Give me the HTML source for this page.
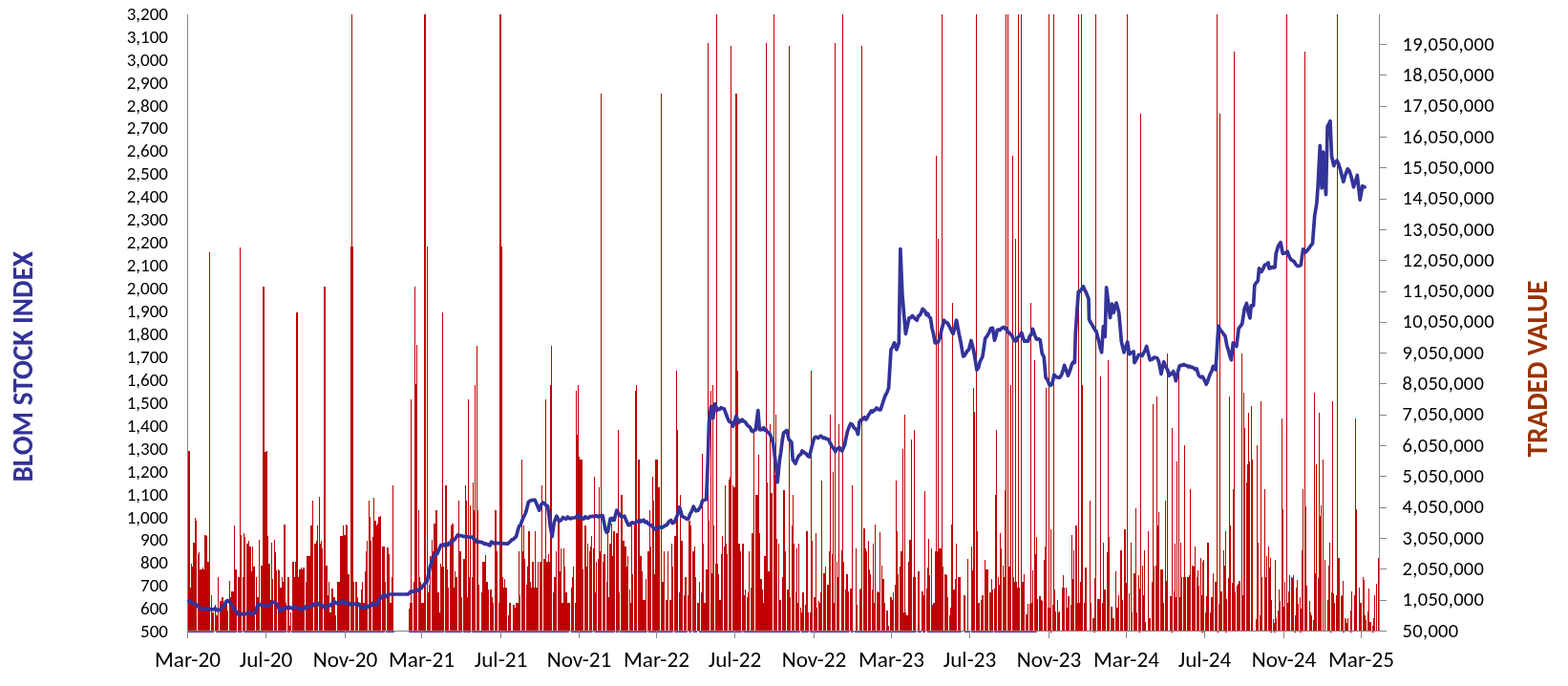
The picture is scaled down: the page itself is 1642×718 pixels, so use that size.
<!DOCTYPE html><html><head><meta charset="utf-8"><style>
html,body{margin:0;padding:0;background:#fff;}svg{display:block;}
text{font-family:Carlito,"Liberation Sans",sans-serif;}
.l{font-size:19px;fill:#000;}.r{font-size:20.5px;letter-spacing:0.3px;fill:#000;}.b{font-size:23.2px;fill:#000;}
.t{font-size:29.3px;font-weight:bold;}
</style></head><body>
<svg width="1642" height="718" viewBox="0 0 1642 718">
<rect width="1642" height="718" fill="#fff"/>
<path fill="#C00000" shape-rendering="crispEdges" d="M197 471.9h1V660.5h-1zM198 471.9h1V660.5h-1zM199 614.5h1V660.5h-1zM200 590.4h1V660.5h-1zM201 593.1h1V660.5h-1zM202 567.6h1V660.5h-1zM203 567.6h1V660.5h-1zM204 542.2h1V660.5h-1zM205 544.9h1V660.5h-1zM207 579.7h1V660.5h-1zM208 578.3h1V660.5h-1zM209 595.7h1V660.5h-1zM210 595.7h1V660.5h-1zM211 595.7h1V660.5h-1zM212 594.4h1V660.5h-1zM213 595.7h1V660.5h-1zM214 559.6h1V660.5h-1zM215 559.6h1V660.5h-1zM216 561.0h1V660.5h-1zM217 587.7h1V660.5h-1zM218 587.7h1V660.5h-1zM219 263.6h1V660.5h-1zM221 622.5h1V660.5h-1zM222 641.2h1V660.5h-1zM223 641.2h1V660.5h-1zM225 633.2h1V660.5h-1zM226 643.9h1V660.5h-1zM227 643.9h1V660.5h-1zM228 603.8h1V660.5h-1zM230 629.2h1V660.5h-1zM231 629.2h1V660.5h-1zM232 625.2h1V660.5h-1zM233 625.2h1V660.5h-1zM234 630.5h1V660.5h-1zM235 630.5h1V660.5h-1zM236 633.2h1V660.5h-1zM237 630.5h1V660.5h-1zM238 638.5h1V660.5h-1zM240 607.8h1V660.5h-1zM241 625.2h1V660.5h-1zM242 618.5h1V660.5h-1zM243 618.5h1V660.5h-1zM244 618.5h1V660.5h-1zM245 550.3h1V660.5h-1zM246 595.7h1V660.5h-1zM247 595.7h1V660.5h-1zM249 603.8h1V660.5h-1zM250 603.8h1V660.5h-1zM251 259.0h1V660.5h-1zM252 559.6h1V660.5h-1zM254 603.8h1V660.5h-1zM255 558.3h1V660.5h-1zM256 562.3h1V660.5h-1zM258 569.0h1V660.5h-1zM259 569.0h1V660.5h-1zM260 566.3h1V660.5h-1zM261 571.7h1V660.5h-1zM262 571.7h1V660.5h-1zM263 598.4h1V660.5h-1zM264 571.7h1V660.5h-1zM265 593.1h1V660.5h-1zM266 593.1h1V660.5h-1zM268 603.8h1V660.5h-1zM269 625.2h1V660.5h-1zM270 625.2h1V660.5h-1zM271 565.0h1V660.5h-1zM273 591.7h1V660.5h-1zM274 591.7h1V660.5h-1zM275 300.0h1V660.5h-1zM276 300.0h1V660.5h-1zM277 472.7h1V660.5h-1zM278 472.7h1V660.5h-1zM279 471.9h1V660.5h-1zM280 561.0h1V660.5h-1zM281 590.4h1V660.5h-1zM282 590.4h1V660.5h-1zM283 627.8h1V660.5h-1zM284 567.6h1V660.5h-1zM285 606.4h1V660.5h-1zM287 565.0h1V660.5h-1zM288 578.3h1V660.5h-1zM289 597.1h1V660.5h-1zM291 595.7h1V660.5h-1zM292 597.1h1V660.5h-1zM293 614.5h1V660.5h-1zM294 614.5h1V660.5h-1zM295 603.8h1V660.5h-1zM296 609.1h1V660.5h-1zM297 548.9h1V660.5h-1zM298 548.9h1V660.5h-1zM299 630.5h1V660.5h-1zM301 603.8h1V660.5h-1zM302 603.8h1V660.5h-1zM303 654.6h1V660.5h-1zM304 641.2h1V660.5h-1zM306 587.7h1V660.5h-1zM307 587.7h1V660.5h-1zM308 603.8h1V660.5h-1zM309 587.7h1V660.5h-1zM310 327.1h1V660.5h-1zM311 327.1h1V660.5h-1zM312 603.8h1V660.5h-1zM313 595.7h1V660.5h-1zM314 595.7h1V660.5h-1zM315 594.4h1V660.5h-1zM316 595.7h1V660.5h-1zM317 594.4h1V660.5h-1zM318 594.4h1V660.5h-1zM320 609.1h1V660.5h-1zM321 582.4h1V660.5h-1zM322 582.4h1V660.5h-1zM323 582.4h1V660.5h-1zM324 582.4h1V660.5h-1zM325 550.3h1V660.5h-1zM326 550.3h1V660.5h-1zM327 523.5h1V660.5h-1zM329 569.0h1V660.5h-1zM330 569.0h1V660.5h-1zM331 566.3h1V660.5h-1zM332 550.3h1V660.5h-1zM334 519.5h1V660.5h-1zM335 569.0h1V660.5h-1zM336 566.3h1V660.5h-1zM337 574.3h1V660.5h-1zM339 300.0h1V660.5h-1zM340 300.0h1V660.5h-1zM341 591.7h1V660.5h-1zM342 591.7h1V660.5h-1zM343 622.5h1V660.5h-1zM344 609.1h1V660.5h-1zM345 641.2h1V660.5h-1zM346 641.2h1V660.5h-1zM347 615.8h1V660.5h-1zM348 615.8h1V660.5h-1zM349 625.2h1V660.5h-1zM350 625.2h1V660.5h-1zM351 643.9h1V660.5h-1zM353 609.1h1V660.5h-1zM354 609.1h1V660.5h-1zM355 609.1h1V660.5h-1zM356 561.0h1V660.5h-1zM357 561.0h1V660.5h-1zM358 561.0h1V660.5h-1zM359 550.3h1V660.5h-1zM360 559.6h1V660.5h-1zM361 559.6h1V660.5h-1zM362 548.9h1V660.5h-1zM363 550.3h1V660.5h-1zM364 601.1h1V660.5h-1zM365 601.1h1V660.5h-1zM367 257.8h1V660.5h-1zM368 15.0h1V660.5h-1zM369 257.8h1V660.5h-1zM370 609.1h1V660.5h-1zM372 609.1h1V660.5h-1zM373 609.1h1V660.5h-1zM374 625.2h1V660.5h-1zM376 630.5h1V660.5h-1zM377 630.5h1V660.5h-1zM378 617.1h1V660.5h-1zM379 609.1h1V660.5h-1zM380 630.5h1V660.5h-1zM381 630.5h1V660.5h-1zM382 598.4h1V660.5h-1zM383 577.0h1V660.5h-1zM384 566.3h1V660.5h-1zM386 523.5h1V660.5h-1zM387 540.9h1V660.5h-1zM388 566.3h1V660.5h-1zM390 562.3h1V660.5h-1zM391 520.8h1V660.5h-1zM392 544.9h1V660.5h-1zM393 544.9h1V660.5h-1zM394 550.3h1V660.5h-1zM395 547.6h1V660.5h-1zM396 540.9h1V660.5h-1zM397 540.9h1V660.5h-1zM398 539.6h1V660.5h-1zM400 571.7h1V660.5h-1zM401 571.7h1V660.5h-1zM402 571.7h1V660.5h-1zM403 609.1h1V660.5h-1zM405 573.0h1V660.5h-1zM406 573.0h1V660.5h-1zM407 579.7h1V660.5h-1zM408 630.5h1V660.5h-1zM409 630.5h1V660.5h-1zM410 603.8h1V660.5h-1zM411 507.5h1V660.5h-1zM428 637.2h1V660.5h-1zM429 630.5h1V660.5h-1zM430 418.2h1V660.5h-1zM431 630.5h1V660.5h-1zM433 609.1h1V660.5h-1zM434 300.0h1V660.5h-1zM435 402.0h1V660.5h-1zM436 360.7h1V660.5h-1zM438 534.2h1V660.5h-1zM439 603.8h1V660.5h-1zM440 609.1h1V660.5h-1zM441 630.5h1V660.5h-1zM442 630.5h1V660.5h-1zM443 630.5h1V660.5h-1zM444 15.0h1V660.5h-1zM445 15.0h1V660.5h-1zM447 257.8h1V660.5h-1zM448 619.8h1V660.5h-1zM449 611.8h1V660.5h-1zM450 582.4h1V660.5h-1zM452 565.0h1V660.5h-1zM453 577.0h1V660.5h-1zM454 547.6h1V660.5h-1zM455 547.6h1V660.5h-1zM456 534.2h1V660.5h-1zM457 534.2h1V660.5h-1zM458 619.8h1V660.5h-1zM459 619.8h1V660.5h-1zM460 641.2h1V660.5h-1zM461 590.4h1V660.5h-1zM462 593.1h1V660.5h-1zM463 327.1h1V660.5h-1zM464 593.1h1V660.5h-1zM466 507.5h1V660.5h-1zM467 507.5h1V660.5h-1zM468 595.7h1V660.5h-1zM469 614.5h1V660.5h-1zM471 563.6h1V660.5h-1zM472 550.3h1V660.5h-1zM473 547.6h1V660.5h-1zM474 547.6h1V660.5h-1zM475 614.5h1V660.5h-1zM476 598.4h1V660.5h-1zM477 603.8h1V660.5h-1zM478 603.8h1V660.5h-1zM480 523.5h1V660.5h-1zM481 577.0h1V660.5h-1zM482 577.0h1V660.5h-1zM483 625.2h1V660.5h-1zM485 585.0h1V660.5h-1zM486 585.0h1V660.5h-1zM487 507.5h1V660.5h-1zM488 523.5h1V660.5h-1zM489 625.2h1V660.5h-1zM490 418.3h1V660.5h-1zM491 603.8h1V660.5h-1zM492 528.9h1V660.5h-1zM494 603.8h1V660.5h-1zM495 504.8h1V660.5h-1zM496 534.2h1V660.5h-1zM497 403.0h1V660.5h-1zM499 361.5h1V660.5h-1zM500 534.2h1V660.5h-1zM501 611.8h1V660.5h-1zM504 619.8h1V660.5h-1zM505 587.7h1V660.5h-1zM506 587.7h1V660.5h-1zM507 587.7h1V660.5h-1zM508 581.0h1V660.5h-1zM509 609.1h1V660.5h-1zM510 609.1h1V660.5h-1zM511 617.1h1V660.5h-1zM513 617.1h1V660.5h-1zM514 617.1h1V660.5h-1zM515 625.2h1V660.5h-1zM516 630.5h1V660.5h-1zM518 534.2h1V660.5h-1zM519 534.2h1V660.5h-1zM520 577.0h1V660.5h-1zM522 630.5h1V660.5h-1zM523 15.0h1V660.5h-1zM524 15.0h1V660.5h-1zM525 257.8h1V660.5h-1zM526 603.8h1V660.5h-1zM527 614.5h1V660.5h-1zM528 606.4h1V660.5h-1zM529 614.5h1V660.5h-1zM530 614.5h1V660.5h-1zM532 643.9h1V660.5h-1zM533 630.5h1V660.5h-1zM534 630.5h1V660.5h-1zM537 633.2h1V660.5h-1zM538 633.2h1V660.5h-1zM539 635.9h1V660.5h-1zM540 630.5h1V660.5h-1zM541 630.5h1V660.5h-1zM542 630.5h1V660.5h-1zM543 577.0h1V660.5h-1zM544 622.5h1V660.5h-1zM546 480.7h1V660.5h-1zM547 577.0h1V660.5h-1zM548 550.3h1V660.5h-1zM549 585.0h1V660.5h-1zM551 611.8h1V660.5h-1zM552 593.1h1V660.5h-1zM553 555.6h1V660.5h-1zM554 555.6h1V660.5h-1zM555 609.1h1V660.5h-1zM556 614.5h1V660.5h-1zM557 587.7h1V660.5h-1zM558 587.7h1V660.5h-1zM559 614.5h1V660.5h-1zM560 555.6h1V660.5h-1zM561 614.5h1V660.5h-1zM562 614.5h1V660.5h-1zM563 587.7h1V660.5h-1zM565 587.7h1V660.5h-1zM566 587.7h1V660.5h-1zM567 507.5h1V660.5h-1zM569 585.0h1V660.5h-1zM570 585.0h1V660.5h-1zM571 418.3h1V660.5h-1zM572 587.7h1V660.5h-1zM573 587.7h1V660.5h-1zM574 579.7h1V660.5h-1zM575 587.7h1V660.5h-1zM576 403.0h1V660.5h-1zM577 361.5h1V660.5h-1zM579 619.8h1V660.5h-1zM580 603.8h1V660.5h-1zM581 603.8h1V660.5h-1zM582 577.0h1V660.5h-1zM584 544.9h1V660.5h-1zM585 544.9h1V660.5h-1zM586 598.4h1V660.5h-1zM587 574.3h1V660.5h-1zM588 630.5h1V660.5h-1zM589 630.5h1V660.5h-1zM590 574.3h1V660.5h-1zM591 593.1h1V660.5h-1zM592 619.8h1V660.5h-1zM593 619.8h1V660.5h-1zM594 630.5h1V660.5h-1zM595 630.5h1V660.5h-1zM596 630.5h1V660.5h-1zM598 614.5h1V660.5h-1zM599 603.8h1V660.5h-1zM600 593.1h1V660.5h-1zM602 630.5h1V660.5h-1zM603 408.8h1V660.5h-1zM604 455.0h1V660.5h-1zM605 403.0h1V660.5h-1zM606 478.0h1V660.5h-1zM607 480.7h1V660.5h-1zM608 480.7h1V660.5h-1zM609 480.7h1V660.5h-1zM610 595.7h1V660.5h-1zM612 550.3h1V660.5h-1zM613 550.3h1V660.5h-1zM614 593.1h1V660.5h-1zM615 569.0h1V660.5h-1zM617 577.0h1V660.5h-1zM618 571.7h1V660.5h-1zM619 561.0h1V660.5h-1zM621 574.3h1V660.5h-1zM622 499.4h1V660.5h-1zM623 619.8h1V660.5h-1zM624 587.7h1V660.5h-1zM626 585.0h1V660.5h-1zM627 510.1h1V660.5h-1zM628 577.0h1V660.5h-1zM629 97.9h1V660.5h-1zM631 587.7h1V660.5h-1zM632 579.7h1V660.5h-1zM633 579.7h1V660.5h-1zM635 609.1h1V660.5h-1zM636 555.6h1V660.5h-1zM637 625.2h1V660.5h-1zM638 569.0h1V660.5h-1zM639 569.0h1V660.5h-1zM640 547.6h1V660.5h-1zM641 582.4h1V660.5h-1zM642 555.6h1V660.5h-1zM643 555.6h1V660.5h-1zM645 558.3h1V660.5h-1zM646 558.3h1V660.5h-1zM647 450.0h1V660.5h-1zM648 619.8h1V660.5h-1zM650 518.2h1V660.5h-1zM651 518.2h1V660.5h-1zM652 566.3h1V660.5h-1zM653 566.3h1V660.5h-1zM654 571.7h1V660.5h-1zM655 571.7h1V660.5h-1zM656 593.1h1V660.5h-1zM657 582.4h1V660.5h-1zM659 617.1h1V660.5h-1zM660 630.5h1V660.5h-1zM661 550.3h1V660.5h-1zM662 601.1h1V660.5h-1zM664 550.3h1V660.5h-1zM665 408.8h1V660.5h-1zM666 403.0h1V660.5h-1zM668 480.7h1V660.5h-1zM669 480.7h1V660.5h-1zM670 582.4h1V660.5h-1zM671 582.4h1V660.5h-1zM672 598.4h1V660.5h-1zM673 627.8h1V660.5h-1zM674 627.8h1V660.5h-1zM675 627.8h1V660.5h-1zM676 606.4h1V660.5h-1zM678 577.0h1V660.5h-1zM679 577.0h1V660.5h-1zM680 534.2h1V660.5h-1zM681 571.7h1V660.5h-1zM683 499.4h1V660.5h-1zM684 523.5h1V660.5h-1zM685 601.1h1V660.5h-1zM686 480.7h1V660.5h-1zM687 480.7h1V660.5h-1zM688 480.7h1V660.5h-1zM689 510.1h1V660.5h-1zM690 510.1h1V660.5h-1zM692 97.9h1V660.5h-1zM693 609.1h1V660.5h-1zM694 609.1h1V660.5h-1zM695 577.0h1V660.5h-1zM697 627.8h1V660.5h-1zM698 627.8h1V660.5h-1zM699 577.0h1V660.5h-1zM701 627.8h1V660.5h-1zM702 627.8h1V660.5h-1zM703 569.0h1V660.5h-1zM704 593.1h1V660.5h-1zM706 561.0h1V660.5h-1zM707 561.0h1V660.5h-1zM708 388.1h1V660.5h-1zM709 450.0h1V660.5h-1zM711 619.8h1V660.5h-1zM712 518.2h1V660.5h-1zM713 566.3h1V660.5h-1zM714 566.3h1V660.5h-1zM716 622.5h1V660.5h-1zM717 603.8h1V660.5h-1zM718 603.8h1V660.5h-1zM720 622.5h1V660.5h-1zM721 544.9h1V660.5h-1zM722 544.9h1V660.5h-1zM723 550.3h1V660.5h-1zM725 577.0h1V660.5h-1zM726 577.0h1V660.5h-1zM727 571.7h1V660.5h-1zM728 603.8h1V660.5h-1zM730 630.5h1V660.5h-1zM731 630.5h1V660.5h-1zM732 609.1h1V660.5h-1zM734 619.8h1V660.5h-1zM735 475.4h1V660.5h-1zM736 569.0h1V660.5h-1zM737 630.5h1V660.5h-1zM738 630.5h1V660.5h-1zM739 595.7h1V660.5h-1zM740 595.7h1V660.5h-1zM741 45.2h1V660.5h-1zM742 544.9h1V660.5h-1zM744 408.8h1V660.5h-1zM745 600.0h1V660.5h-1zM746 403.0h1V660.5h-1zM747 550.3h1V660.5h-1zM749 590.4h1V660.5h-1zM750 15.0h1V660.5h-1zM751 590.4h1V660.5h-1zM752 601.1h1V660.5h-1zM753 627.8h1V660.5h-1zM754 627.8h1V660.5h-1zM755 579.7h1V660.5h-1zM756 561.0h1V660.5h-1zM758 571.7h1V660.5h-1zM759 507.5h1V660.5h-1zM760 569.0h1V660.5h-1zM761 579.7h1V660.5h-1zM763 502.1h1V660.5h-1zM764 499.4h1V660.5h-1zM765 48.2h1V660.5h-1zM767 507.5h1V660.5h-1zM768 510.1h1V660.5h-1zM769 510.1h1V660.5h-1zM770 97.9h1V660.5h-1zM771 97.9h1V660.5h-1zM772 388.1h1V660.5h-1zM773 569.0h1V660.5h-1zM774 569.0h1V660.5h-1zM775 577.0h1V660.5h-1zM777 569.0h1V660.5h-1zM778 569.0h1V660.5h-1zM779 622.5h1V660.5h-1zM780 617.1h1V660.5h-1zM782 625.2h1V660.5h-1zM783 619.8h1V660.5h-1zM784 577.0h1V660.5h-1zM786 614.5h1V660.5h-1zM787 558.3h1V660.5h-1zM788 558.3h1V660.5h-1zM789 451.0h1V660.5h-1zM791 518.2h1V660.5h-1zM792 518.2h1V660.5h-1zM793 518.2h1V660.5h-1zM794 476.0h1V660.5h-1zM795 558.3h1V660.5h-1zM796 606.4h1V660.5h-1zM797 606.4h1V660.5h-1zM798 617.1h1V660.5h-1zM799 630.5h1V660.5h-1zM800 582.4h1V660.5h-1zM801 582.4h1V660.5h-1zM802 45.2h1V660.5h-1zM803 504.8h1V660.5h-1zM804 598.4h1V660.5h-1zM805 598.4h1V660.5h-1zM806 444.0h1V660.5h-1zM807 515.5h1V660.5h-1zM808 515.5h1V660.5h-1zM810 15.0h1V660.5h-1zM811 496.8h1V660.5h-1zM812 434.0h1V660.5h-1zM813 563.6h1V660.5h-1zM815 569.0h1V660.5h-1zM816 627.8h1V660.5h-1zM817 627.8h1V660.5h-1zM819 603.8h1V660.5h-1zM820 512.8h1V660.5h-1zM821 512.8h1V660.5h-1zM822 577.0h1V660.5h-1zM824 617.1h1V660.5h-1zM825 617.1h1V660.5h-1zM826 48.2h1V660.5h-1zM827 625.2h1V660.5h-1zM829 550.3h1V660.5h-1zM830 518.2h1V660.5h-1zM831 569.0h1V660.5h-1zM833 619.8h1V660.5h-1zM834 574.3h1V660.5h-1zM835 630.5h1V660.5h-1zM836 569.0h1V660.5h-1zM838 635.9h1V660.5h-1zM839 641.2h1V660.5h-1zM840 619.8h1V660.5h-1zM841 619.8h1V660.5h-1zM843 633.2h1V660.5h-1zM844 555.6h1V660.5h-1zM845 555.6h1V660.5h-1zM846 641.2h1V660.5h-1zM848 641.2h1V660.5h-1zM849 388.1h1V660.5h-1zM850 566.3h1V660.5h-1zM852 625.2h1V660.5h-1zM853 625.2h1V660.5h-1zM854 558.3h1V660.5h-1zM855 635.9h1V660.5h-1zM857 629.2h1V660.5h-1zM858 630.5h1V660.5h-1zM859 619.8h1V660.5h-1zM860 503.4h1V660.5h-1zM862 599.7h1V660.5h-1zM863 599.7h1V660.5h-1zM864 593.1h1V660.5h-1zM866 611.8h1V660.5h-1zM867 611.8h1V660.5h-1zM868 577.0h1V660.5h-1zM869 434.3h1V660.5h-1zM871 579.7h1V660.5h-1zM872 494.1h1V660.5h-1zM873 630.5h1V660.5h-1zM874 45.2h1V660.5h-1zM876 587.7h1V660.5h-1zM877 603.8h1V660.5h-1zM878 444.2h1V660.5h-1zM881 575.7h1V660.5h-1zM882 15.0h1V660.5h-1zM883 587.7h1V660.5h-1zM885 617.1h1V660.5h-1zM886 601.1h1V660.5h-1zM887 601.1h1V660.5h-1zM888 618.5h1V660.5h-1zM890 615.8h1V660.5h-1zM891 615.8h1V660.5h-1zM892 507.5h1V660.5h-1zM896 574.3h1V660.5h-1zM897 633.2h1V660.5h-1zM900 617.1h1V660.5h-1zM901 615.8h1V660.5h-1zM902 48.2h1V660.5h-1zM904 552.9h1V660.5h-1zM905 552.9h1V660.5h-1zM906 574.3h1V660.5h-1zM907 577.0h1V660.5h-1zM909 566.3h1V660.5h-1zM910 595.7h1V660.5h-1zM911 601.1h1V660.5h-1zM913 617.1h1V660.5h-1zM914 569.0h1V660.5h-1zM915 630.5h1V660.5h-1zM916 548.9h1V660.5h-1zM918 619.8h1V660.5h-1zM919 618.5h1V660.5h-1zM920 619.8h1V660.5h-1zM921 556.9h1V660.5h-1zM923 591.7h1V660.5h-1zM924 606.4h1V660.5h-1zM925 606.4h1V660.5h-1zM926 630.5h1V660.5h-1zM928 638.5h1V660.5h-1zM929 638.5h1V660.5h-1zM930 654.6h1V660.5h-1zM932 625.2h1V660.5h-1zM933 625.2h1V660.5h-1zM934 627.8h1V660.5h-1zM935 619.8h1V660.5h-1zM937 611.8h1V660.5h-1zM938 503.4h1V660.5h-1zM939 555.6h1V660.5h-1zM940 601.1h1V660.5h-1zM942 593.1h1V660.5h-1zM943 577.0h1V660.5h-1zM944 577.0h1V660.5h-1zM945 470.2h1V660.5h-1zM946 641.2h1V660.5h-1zM947 434.3h1V660.5h-1zM948 641.2h1V660.5h-1zM949 643.9h1V660.5h-1zM950 643.9h1V660.5h-1zM951 587.7h1V660.5h-1zM952 565.0h1V660.5h-1zM953 565.0h1V660.5h-1zM954 460.3h1V660.5h-1zM956 603.8h1V660.5h-1zM957 450.1h1V660.5h-1zM958 603.8h1V660.5h-1zM961 598.4h1V660.5h-1zM962 598.4h1V660.5h-1zM965 618.5h1V660.5h-1zM966 618.5h1V660.5h-1zM967 622.5h1V660.5h-1zM968 514.1h1V660.5h-1zM970 615.8h1V660.5h-1zM971 594.4h1V660.5h-1zM972 563.6h1V660.5h-1zM973 602.4h1V660.5h-1zM975 574.3h1V660.5h-1zM976 633.2h1V660.5h-1zM977 630.5h1V660.5h-1zM978 630.5h1V660.5h-1zM979 577.0h1V660.5h-1zM980 163.0h1V660.5h-1zM981 577.0h1V660.5h-1zM982 250.1h1V660.5h-1zM983 574.3h1V660.5h-1zM984 574.3h1V660.5h-1zM985 574.3h1V660.5h-1zM986 15.0h1V660.5h-1zM987 593.1h1V660.5h-1zM989 601.1h1V660.5h-1zM990 601.1h1V660.5h-1zM991 602.4h1V660.5h-1zM992 625.2h1V660.5h-1zM994 643.9h1V660.5h-1zM995 635.9h1V660.5h-1zM996 548.9h1V660.5h-1zM997 317.0h1V660.5h-1zM998 617.1h1V660.5h-1zM999 617.1h1V660.5h-1zM1000 606.4h1V660.5h-1zM1001 569.0h1V660.5h-1zM1003 603.8h1V660.5h-1zM1004 603.8h1V660.5h-1zM1005 603.8h1V660.5h-1zM1009 622.5h1V660.5h-1zM1010 622.5h1V660.5h-1zM1013 585.0h1V660.5h-1zM1017 571.7h1V660.5h-1zM1018 597.1h1V660.5h-1zM1019 405.9h1V660.5h-1zM1020 430.8h1V660.5h-1zM1022 15.0h1V660.5h-1zM1023 555.6h1V660.5h-1zM1024 630.5h1V660.5h-1zM1025 630.5h1V660.5h-1zM1027 627.8h1V660.5h-1zM1028 622.5h1V660.5h-1zM1029 622.5h1V660.5h-1zM1031 586.4h1V660.5h-1zM1032 595.7h1V660.5h-1zM1033 595.7h1V660.5h-1zM1034 595.7h1V660.5h-1zM1036 619.8h1V660.5h-1zM1037 619.8h1V660.5h-1zM1038 606.4h1V660.5h-1zM1039 617.1h1V660.5h-1zM1041 615.8h1V660.5h-1zM1042 518.2h1V660.5h-1zM1043 450.1h1V660.5h-1zM1045 603.8h1V660.5h-1zM1046 611.8h1V660.5h-1zM1047 558.3h1V660.5h-1zM1048 574.3h1V660.5h-1zM1050 591.7h1V660.5h-1zM1051 603.8h1V660.5h-1zM1052 512.8h1V660.5h-1zM1053 15.0h1V660.5h-1zM1055 15.0h1V660.5h-1zM1056 593.1h1V660.5h-1zM1057 593.1h1V660.5h-1zM1058 403.0h1V660.5h-1zM1060 163.0h1V660.5h-1zM1061 603.8h1V660.5h-1zM1062 609.1h1V660.5h-1zM1063 250.1h1V660.5h-1zM1064 609.1h1V660.5h-1zM1065 614.5h1V660.5h-1zM1066 15.0h1V660.5h-1zM1067 614.5h1V660.5h-1zM1069 15.0h1V660.5h-1zM1070 609.1h1V660.5h-1zM1071 609.1h1V660.5h-1zM1072 601.1h1V660.5h-1zM1074 642.6h1V660.5h-1zM1075 642.6h1V660.5h-1zM1076 631.9h1V660.5h-1zM1078 631.9h1V660.5h-1zM1079 317.0h1V660.5h-1zM1080 630.5h1V660.5h-1zM1081 597.1h1V660.5h-1zM1083 377.4h1V660.5h-1zM1084 579.7h1V660.5h-1zM1085 562.3h1V660.5h-1zM1086 626.5h1V660.5h-1zM1088 623.8h1V660.5h-1zM1089 623.8h1V660.5h-1zM1090 627.8h1V660.5h-1zM1091 629.2h1V660.5h-1zM1093 586.4h1V660.5h-1zM1094 571.7h1V660.5h-1zM1095 405.9h1V660.5h-1zM1097 635.9h1V660.5h-1zM1098 15.0h1V660.5h-1zM1099 635.9h1V660.5h-1zM1100 554.3h1V660.5h-1zM1102 633.2h1V660.5h-1zM1103 15.0h1V660.5h-1zM1104 617.1h1V660.5h-1zM1105 639.9h1V660.5h-1zM1107 627.8h1V660.5h-1zM1108 641.2h1V660.5h-1zM1109 639.9h1V660.5h-1zM1112 614.5h1V660.5h-1zM1113 602.4h1V660.5h-1zM1114 614.5h1V660.5h-1zM1116 614.5h1V660.5h-1zM1117 635.9h1V660.5h-1zM1118 623.8h1V660.5h-1zM1119 623.8h1V660.5h-1zM1121 633.2h1V660.5h-1zM1122 559.6h1V660.5h-1zM1123 606.4h1V660.5h-1zM1124 575.7h1V660.5h-1zM1126 550.3h1V660.5h-1zM1127 550.3h1V660.5h-1zM1128 630.5h1V660.5h-1zM1129 15.0h1V660.5h-1zM1130 630.5h1V660.5h-1zM1131 609.1h1V660.5h-1zM1132 15.0h1V660.5h-1zM1133 403.0h1V660.5h-1zM1135 630.5h1V660.5h-1zM1136 594.4h1V660.5h-1zM1137 594.4h1V660.5h-1zM1141 523.5h1V660.5h-1zM1142 630.5h1V660.5h-1zM1144 646.6h1V660.5h-1zM1145 646.6h1V660.5h-1zM1146 605.1h1V660.5h-1zM1147 15.0h1V660.5h-1zM1149 626.5h1V660.5h-1zM1150 626.5h1V660.5h-1zM1151 626.5h1V660.5h-1zM1152 394.0h1V660.5h-1zM1154 630.5h1V660.5h-1zM1155 567.6h1V660.5h-1zM1156 617.1h1V660.5h-1zM1157 617.1h1V660.5h-1zM1159 578.3h1V660.5h-1zM1160 377.4h1V660.5h-1zM1161 562.3h1V660.5h-1zM1163 634.5h1V660.5h-1zM1164 634.5h1V660.5h-1zM1165 646.6h1V660.5h-1zM1166 646.6h1V660.5h-1zM1168 598.4h1V660.5h-1zM1169 635.9h1V660.5h-1zM1170 635.9h1V660.5h-1zM1171 622.5h1V660.5h-1zM1173 575.7h1V660.5h-1zM1174 575.7h1V660.5h-1zM1175 627.8h1V660.5h-1zM1177 554.3h1V660.5h-1zM1178 554.3h1V660.5h-1zM1179 610.4h1V660.5h-1zM1180 15.0h1V660.5h-1zM1182 621.2h1V660.5h-1zM1184 567.6h1V660.5h-1zM1185 641.2h1V660.5h-1zM1187 599.7h1V660.5h-1zM1188 599.7h1V660.5h-1zM1189 531.5h1V660.5h-1zM1190 641.2h1V660.5h-1zM1192 602.4h1V660.5h-1zM1193 615.8h1V660.5h-1zM1194 118.6h1V660.5h-1zM1196 591.7h1V660.5h-1zM1197 622.5h1V660.5h-1zM1198 575.7h1V660.5h-1zM1199 650.6h1V660.5h-1zM1202 555.6h1V660.5h-1zM1203 646.6h1V660.5h-1zM1204 646.6h1V660.5h-1zM1206 609.1h1V660.5h-1zM1207 423.2h1V660.5h-1zM1208 593.1h1V660.5h-1zM1210 591.7h1V660.5h-1zM1211 415.2h1V660.5h-1zM1212 550.3h1V660.5h-1zM1213 535.5h1V660.5h-1zM1215 595.7h1V660.5h-1zM1216 595.7h1V660.5h-1zM1217 595.7h1V660.5h-1zM1218 630.5h1V660.5h-1zM1220 523.5h1V660.5h-1zM1221 607.8h1V660.5h-1zM1222 370.3h1V660.5h-1zM1225 623.8h1V660.5h-1zM1226 623.8h1V660.5h-1zM1227 448.2h1V660.5h-1zM1229 618.5h1V660.5h-1zM1230 569.0h1V660.5h-1zM1231 625.2h1V660.5h-1zM1232 483.4h1V660.5h-1zM1234 382.2h1V660.5h-1zM1235 625.2h1V660.5h-1zM1236 567.6h1V660.5h-1zM1237 603.8h1V660.5h-1zM1239 603.8h1V660.5h-1zM1240 465.9h1V660.5h-1zM1241 603.8h1V660.5h-1zM1243 603.8h1V660.5h-1zM1244 603.8h1V660.5h-1zM1245 602.4h1V660.5h-1zM1246 511.5h1V660.5h-1zM1248 591.7h1V660.5h-1zM1249 591.7h1V660.5h-1zM1250 593.1h1V660.5h-1zM1251 571.7h1V660.5h-1zM1253 603.8h1V660.5h-1zM1254 597.1h1V660.5h-1zM1255 613.1h1V660.5h-1zM1257 583.7h1V660.5h-1zM1258 622.5h1V660.5h-1zM1259 587.7h1V660.5h-1zM1260 586.4h1V660.5h-1zM1262 641.2h1V660.5h-1zM1263 623.8h1V660.5h-1zM1264 567.6h1V660.5h-1zM1265 567.6h1V660.5h-1zM1267 641.2h1V660.5h-1zM1268 625.2h1V660.5h-1zM1269 625.2h1V660.5h-1zM1270 599.7h1V660.5h-1zM1272 609.1h1V660.5h-1zM1273 609.1h1V660.5h-1zM1274 15.0h1V660.5h-1zM1276 631.9h1V660.5h-1zM1277 118.6h1V660.5h-1zM1278 618.5h1V660.5h-1zM1279 618.5h1V660.5h-1zM1281 575.7h1V660.5h-1zM1282 591.7h1V660.5h-1zM1283 555.6h1V660.5h-1zM1284 626.5h1V660.5h-1zM1286 605.1h1V660.5h-1zM1287 415.2h1V660.5h-1zM1288 550.3h1V660.5h-1zM1290 610.4h1V660.5h-1zM1291 511.5h1V660.5h-1zM1292 54.1h1V660.5h-1zM1293 619.8h1V660.5h-1zM1295 613.1h1V660.5h-1zM1296 610.5h1V660.5h-1zM1297 607.8h1V660.5h-1zM1298 607.8h1V660.5h-1zM1300 370.3h1V660.5h-1zM1301 622.5h1V660.5h-1zM1302 410.9h1V660.5h-1zM1303 447.7h1V660.5h-1zM1305 504.8h1V660.5h-1zM1306 486.1h1V660.5h-1zM1307 432.2h1V660.5h-1zM1308 483.2h1V660.5h-1zM1310 425.2h1V660.5h-1zM1311 481.2h1V660.5h-1zM1315 647.9h1V660.5h-1zM1316 466.1h1V660.5h-1zM1317 567.7h1V660.5h-1zM1319 643.9h1V660.5h-1zM1320 420.1h1V660.5h-1zM1321 603.8h1V660.5h-1zM1324 511.5h1V660.5h-1zM1325 603.8h1V660.5h-1zM1326 582.4h1V660.5h-1zM1328 571.7h1V660.5h-1zM1329 594.4h1V660.5h-1zM1330 583.7h1V660.5h-1zM1331 627.9h1V660.5h-1zM1333 647.9h1V660.5h-1zM1334 651.9h1V660.5h-1zM1335 586.4h1V660.5h-1zM1336 646.6h1V660.5h-1zM1338 638.6h1V660.5h-1zM1339 617.2h1V660.5h-1zM1340 629.2h1V660.5h-1zM1342 438.0h1V660.5h-1zM1343 532.9h1V660.5h-1zM1344 634.5h1V660.5h-1zM1345 609.1h1V660.5h-1zM1347 15.0h1V660.5h-1zM1348 630.5h1V660.5h-1zM1349 618.5h1V660.5h-1zM1350 602.4h1V660.5h-1zM1352 603.8h1V660.5h-1zM1353 605.1h1V660.5h-1zM1354 602.4h1V660.5h-1zM1356 643.9h1V660.5h-1zM1357 614.5h1V660.5h-1zM1358 606.5h1V660.5h-1zM1359 631.9h1V660.5h-1zM1361 625.2h1V660.5h-1zM1362 637.2h1V660.5h-1zM1363 575.7h1V660.5h-1zM1364 511.5h1V660.5h-1zM1366 54.1h1V660.5h-1zM1367 530.2h1V660.5h-1zM1368 613.1h1V660.5h-1zM1371 629.2h1V660.5h-1zM1372 641.2h1V660.5h-1zM1373 643.9h1V660.5h-1zM1375 649.3h1V660.5h-1zM1376 410.9h1V660.5h-1zM1377 599.8h1V660.5h-1zM1378 486.1h1V660.5h-1zM1380 605.1h1V660.5h-1zM1381 432.2h1V660.5h-1zM1382 539.6h1V660.5h-1zM1383 528.9h1V660.5h-1zM1385 480.7h1V660.5h-1zM1387 586.4h1V660.5h-1zM1390 627.9h1V660.5h-1zM1391 591.7h1V660.5h-1zM1392 567.7h1V660.5h-1zM1394 619.8h1V660.5h-1zM1395 420.1h1V660.5h-1zM1396 621.2h1V660.5h-1zM1397 630.5h1V660.5h-1zM1399 622.5h1V660.5h-1zM1400 15.0h1V660.5h-1zM1401 583.7h1V660.5h-1zM1402 583.7h1V660.5h-1zM1404 623.8h1V660.5h-1zM1405 622.5h1V660.5h-1zM1406 607.8h1V660.5h-1zM1408 646.6h1V660.5h-1zM1409 647.9h1V660.5h-1zM1410 651.9h1V660.5h-1zM1411 646.6h1V660.5h-1zM1414 638.6h1V660.5h-1zM1415 618.5h1V660.5h-1zM1418 622.5h1V660.5h-1zM1419 438.0h1V660.5h-1zM1420 532.9h1V660.5h-1zM1423 614.5h1V660.5h-1zM1424 630.5h1V660.5h-1zM1425 630.5h1V660.5h-1zM1427 603.8h1V660.5h-1zM1428 606.5h1V660.5h-1zM1429 643.9h1V660.5h-1zM1430 649.3h1V660.5h-1zM1432 639.9h1V660.5h-1zM1433 615.8h1V660.5h-1zM1434 650.6h1V660.5h-1zM1435 650.6h1V660.5h-1zM1437 654.6h1V660.5h-1zM1438 646.6h1V660.5h-1zM1439 622.5h1V660.5h-1zM1441 610.5h1V660.5h-1zM1443 583.7h1V660.5h-1z"/>
<path d="M197.0 661.4H224.0M226.1 661.4H247.9M249.1 661.4H253.8M255.2 661.4H299.8M300.8 661.4H303.9M305.0 661.4H403.0M404.0 661.4H412.9M428.2 661.4H464.9M466.0 661.4H483.9M485.0 661.4H493.0M494.1 661.4H524.1M524.8 661.4H595.8M598.0 661.4H620.7M622.2 661.4H643.7M644.8 661.4H648.1M648.8 661.4H677.5M679.0 661.4H687.3M688.0 661.4H704.7M706.2 661.4H719.8M721.3 661.4H724.3M725.8 661.4H730.0M731.9 661.4H768.9M770.0 661.4H777.2M778.3 661.4H837.6M839.1 661.4H846.8M848.2 661.4H889.5M891.0 661.4H893.9M895.0 661.4H959.5M961.0 661.4H964.8M966.0 661.4H969.0M970.9 661.4H1006.7M1009.8 661.4H1015.0M1017.0 661.4H1040.0M1041.0 661.4H1085.7" stroke="#333399" stroke-width="1.4"/>
<path fill="#C00000" d="M1100.0 661h1.4v1.2h-1.4zM1145.4 661h1.4v1.2h-1.4zM1192.5 661h1.4v1.2h-1.4zM1226.5 661h1.4v1.2h-1.4zM1258.3 661h1.4v1.2h-1.4zM1260.5 661h1.4v1.2h-1.4zM1274.6 661h1.4v1.2h-1.4zM1283.3 661h1.4v1.2h-1.4zM1330.4 661h1.4v1.2h-1.4zM1334.2 661h1.4v1.2h-1.4zM1355.4 661h1.4v1.2h-1.4zM1361.2 661h1.4v1.2h-1.4zM1392.9 661h1.4v1.2h-1.4zM1406.3 661h1.4v1.2h-1.4zM1414.0 661h1.4v1.2h-1.4zM1437.1 661h1.4v1.2h-1.4z"/>
<g stroke="#868686" stroke-width="1" fill="none" shape-rendering="crispEdges">
<path d="M196.5 15V660.5M1444.5 15V660.5M196.5 660.5H1444.5"/>
<path d="M196.5 660.5V667.5M278.5 660.5V667.5M361.5 660.5V667.5M441.5 660.5V667.5M524.5 660.5V667.5M606.5 660.5V667.5M687.5 660.5V667.5M769.5 660.5V667.5M852.5 660.5V667.5M933.5 660.5V667.5M1015.5 660.5V667.5M1098.5 660.5V667.5M1179.5 660.5V667.5M1261.5 660.5V667.5M1344.5 660.5V667.5M1425.5 660.5V667.5M1444.5 660.5H1451.5M1444.5 628.5H1451.5M1444.5 595.5H1451.5M1444.5 563.5H1451.5M1444.5 531.5H1451.5M1444.5 498.5H1451.5M1444.5 466.5H1451.5M1444.5 434.5H1451.5M1444.5 401.5H1451.5M1444.5 369.5H1451.5M1444.5 337.5H1451.5M1444.5 305.5H1451.5M1444.5 272.5H1451.5M1444.5 240.5H1451.5M1444.5 208.5H1451.5M1444.5 175.5H1451.5M1444.5 143.5H1451.5M1444.5 111.5H1451.5M1444.5 78.5H1451.5M1444.5 46.5H1451.5"/>
</g>
<polyline fill="none" stroke="#333399" stroke-width="3.7" stroke-linejoin="round" stroke-linecap="round" points="197.8,629.0 199.5,629.6 201.1,631.1 202.8,631.5 204.2,632.2 205.6,632.9 207.0,634.0 209.6,637.5 211.1,636.6 212.6,636.9 214.1,637.8 215.6,636.7 217.0,637.3 218.4,638.0 219.8,637.5 221.2,637.9 222.6,637.9 224.0,638.0 225.4,636.7 226.8,638.7 228.2,638.4 229.6,638.4 231.0,638.0 233.0,634.6 235.0,634.0 236.5,629.8 238.4,628.5 240.3,630.0 241.7,631.5 243.2,634.1 244.6,636.7 246.3,639.0 248.0,640.9 249.7,643.0 251.4,643.4 253.1,642.5 254.8,643.0 256.5,642.7 258.3,642.2 260.0,641.3 261.7,640.9 263.4,642.9 265.0,642.1 266.7,641.8 268.4,638.1 270.0,632.4 271.7,632.4 273.3,632.9 275.0,634.0 276.4,633.7 277.8,633.9 279.2,634.5 280.6,634.2 282.0,634.0 283.8,631.8 285.5,630.3 287.2,630.4 288.9,631.6 290.6,632.8 293.0,638.8 294.5,639.1 296.0,636.9 297.5,637.0 299.0,636.2 300.5,636.5 302.0,635.0 303.5,636.2 305.0,636.2 306.5,637.1 308.0,634.4 309.5,635.6 311.0,635.8 312.4,636.6 313.9,636.9 315.3,638.4 316.8,638.1 318.4,637.0 319.9,635.2 321.5,636.3 323.0,635.0 324.4,634.9 325.7,634.6 327.1,634.4 328.4,632.9 329.8,632.0 331.2,632.3 332.6,631.3 333.9,633.0 335.3,632.7 337.1,633.5 338.9,634.9 340.7,636.5 342.1,634.6 343.5,633.9 344.8,633.3 346.2,633.9 347.6,631.9 349.1,630.0 350.6,630.1 352.2,631.2 353.7,631.9 355.2,630.4 356.6,631.1 357.9,629.3 359.2,628.9 360.6,631.4 361.9,630.7 363.3,630.6 364.6,632.5 366.0,631.9 367.5,632.8 369.0,632.0 370.6,632.1 372.1,632.2 373.6,633.2 375.1,631.9 376.6,633.9 378.2,635.4 379.7,636.5 381.2,636.3 382.8,634.0 384.3,635.7 385.9,634.8 387.4,633.4 388.9,633.7 390.4,631.5 392.0,632.5 393.5,633.5 395.0,632.7 396.5,628.4 398.1,626.9 399.6,624.2 401.1,624.6 402.7,622.4 404.2,624.4 405.7,623.2 407.3,622.2 408.8,622.0 427.2,622.0 428.8,620.7 430.3,618.9 431.8,619.3 433.3,618.7 434.9,619.3 436.4,617.7 437.9,618.1 439.4,616.2 441.0,615.9 442.5,613.5 444.0,612.0 445.6,609.7 447.1,608.9 448.6,602.0 450.2,593.6 451.7,589.4 453.2,582.9 454.7,581.5 456.3,579.7 457.8,579.8 459.8,575.1 461.7,570.6 463.1,570.3 464.5,569.9 465.9,571.1 467.4,568.9 468.8,570.5 470.2,568.3 471.6,569.1 473.1,566.6 474.7,565.9 476.2,564.5 477.8,562.4 479.3,559.9 480.8,560.5 482.4,560.6 483.9,560.9 485.5,561.6 487.0,561.4 488.5,561.4 490.0,561.9 491.6,562.3 493.1,562.0 494.6,562.2 496.1,564.0 497.6,565.0 499.2,567.3 500.7,566.8 502.1,567.4 503.4,567.2 504.8,567.7 506.1,568.3 507.4,569.5 508.8,568.9 510.1,569.8 511.5,569.9 513.0,571.0 514.5,567.2 516.1,568.0 517.6,568.8 519.1,568.3 531.4,569.1 532.9,568.1 534.5,566.7 536.0,564.9 537.5,564.5 539.1,562.9 540.6,561.4 542.1,555.6 543.6,550.7 545.1,549.6 546.7,544.9 548.2,541.5 550.7,536.2 553.4,525.5 555.4,524.0 557.4,523.4 558.8,523.3 560.1,523.4 561.7,526.8 563.2,530.5 564.8,534.2 566.8,528.0 568.8,526.1 570.4,526.8 571.9,529.2 573.5,529.5 574.9,539.3 576.2,550.9 578.2,561.6 580.2,546.9 582.9,540.2 584.2,542.8 585.6,545.6 587.6,544.3 589.6,541.5 591.2,542.5 592.8,543.3 594.4,541.0 596.0,542.3 597.6,542.9 599.3,542.0 601.0,542.0 602.6,541.7 604.3,540.2 605.6,538.7 607.0,542.4 608.4,541.1 609.7,542.9 611.2,543.1 612.8,540.9 614.3,541.9 615.8,542.3 617.3,540.9 618.9,540.7 620.4,540.2 621.9,540.7 623.5,540.1 625.0,539.8 626.5,541.0 628.0,540.5 629.6,539.4 631.1,539.5 633.8,553.6 635.1,557.1 636.5,556.3 639.1,542.9 640.5,542.4 641.8,544.5 643.2,544.2 645.8,534.2 647.2,536.0 648.5,538.3 649.9,540.2 651.9,540.8 653.9,540.2 655.9,545.1 657.9,549.6 659.5,549.6 661.1,547.3 662.7,546.8 664.3,547.9 665.9,546.9 667.2,545.7 668.6,545.2 670.0,544.4 671.3,546.1 672.6,545.2 674.0,544.2 675.7,546.7 677.4,546.1 679.0,548.3 680.7,549.6 682.4,549.7 684.0,552.2 685.7,553.9 687.4,553.6 689.4,551.9 691.4,551.6 693.1,552.3 694.8,551.4 696.4,550.0 698.1,549.6 700.8,545.6 702.6,544.5 704.3,547.6 706.1,546.9 708.1,542.1 710.1,537.5 711.5,530.8 712.9,535.0 714.2,540.2 715.9,541.2 717.5,541.9 719.2,543.4 720.9,542.9 722.7,537.8 724.4,535.3 726.2,530.1 728.9,534.8 730.9,534.3 732.9,531.5 734.2,529.0 735.6,524.1 737.6,523.3 739.6,522.8 741.0,490.0 742.5,442.0 744.6,425.3 746.7,437.8 748.8,422.5 750.9,429.5 752.3,428.0 753.6,428.4 755.0,426.7 756.8,427.5 758.5,428.1 760.2,433.0 762.0,437.8 763.4,441.0 764.8,441.8 766.2,442.3 767.6,446.2 769.4,440.3 771.1,435.1 773.2,442.7 774.6,440.1 775.9,441.0 777.3,439.2 778.7,440.9 780.1,441.5 781.5,443.4 782.9,445.5 784.3,446.3 785.7,447.6 787.1,451.1 788.5,451.7 789.9,450.1 791.3,449.7 793.8,429.5 795.4,449.7 796.8,449.8 798.2,449.5 799.6,447.6 801.0,450.3 802.4,449.9 803.8,452.5 805.2,453.2 806.6,454.9 808.0,458.8 809.4,462.9 810.8,472.5 812.2,485.2 814.2,504.7 816.3,482.4 817.7,473.5 819.1,461.9 820.5,453.2 822.2,451.8 824.0,450.4 826.1,460.1 827.5,461.3 828.9,462.9 830.2,481.0 831.6,483.1 833.0,485.2 834.4,481.2 835.8,478.2 837.2,476.3 838.6,475.5 840.0,472.0 841.4,472.9 842.8,474.2 844.2,474.7 845.9,477.3 847.6,478.2 849.7,469.2 851.1,463.8 852.5,458.7 853.9,457.3 855.3,457.6 856.7,458.5 858.1,457.3 859.5,456.2 860.9,457.2 862.3,458.6 863.7,458.0 865.1,459.3 866.4,459.4 867.8,460.1 869.2,463.5 870.6,465.8 872.0,468.5 873.4,469.7 874.8,472.7 876.2,470.0 877.6,469.4 879.0,468.5 880.4,471.0 881.8,472.0 883.2,468.4 884.6,465.7 886.0,458.0 887.4,451.8 889.1,447.0 890.8,443.4 892.5,444.3 894.3,447.6 895.7,448.9 897.1,450.4 898.5,454.6 899.9,442.0 901.3,439.7 902.6,439.5 904.0,437.8 905.4,436.6 906.8,439.2 908.2,437.2 909.6,434.1 911.0,432.3 912.4,429.9 913.8,431.1 915.2,429.5 916.6,428.8 918.0,427.0 919.4,428.1 920.7,429.0 922.1,428.8 924.2,422.5 925.7,417.9 927.1,414.0 928.9,410.7 930.6,406.1 933.0,365.9 934.8,362.9 936.6,358.8 938.9,365.9 941.3,358.8 942.9,260.6 944.8,306.8 946.6,328.6 948.4,349.4 950.1,341.4 951.9,332.8 953.7,332.7 955.5,330.4 957.1,332.5 958.6,334.0 960.2,335.2 961.7,330.6 963.2,330.0 964.6,327.3 966.1,323.3 967.5,324.6 968.9,326.1 970.2,329.6 971.6,328.2 973.0,331.6 974.4,332.8 976.0,343.4 977.5,349.4 979.1,358.8 980.9,358.8 982.7,357.6 984.2,353.5 985.7,346.3 987.1,341.2 988.6,335.2 990.2,337.5 991.7,337.6 993.3,339.9 994.9,343.0 996.5,346.5 998.1,349.4 999.9,343.0 1001.6,335.2 1003.0,342.7 1004.4,350.2 1005.9,357.1 1007.3,365.2 1008.7,373.0 1010.2,371.9 1011.7,369.5 1013.1,367.0 1014.6,365.9 1017.0,356.5 1019.4,365.9 1021.1,375.9 1022.9,387.2 1024.7,384.6 1026.5,377.8 1028.8,373.7 1030.2,364.8 1031.7,354.1 1033.7,351.7 1035.6,348.3 1037.5,343.8 1039.5,343.4 1041.5,356.1 1043.0,351.2 1044.4,345.4 1045.8,345.2 1047.1,345.5 1048.5,343.9 1049.8,342.9 1051.2,342.4 1052.7,344.3 1054.2,343.8 1055.6,347.7 1057.1,348.3 1058.5,350.3 1059.8,351.3 1061.2,354.6 1062.5,356.8 1063.9,357.1 1065.4,353.8 1066.8,352.2 1068.3,350.7 1069.8,348.3 1071.2,352.8 1072.7,357.1 1074.7,356.8 1076.6,357.1 1078.2,352.1 1079.9,350.3 1081.5,344.4 1083.5,350.6 1085.4,355.1 1087.3,354.6 1089.3,356.1 1091.2,369.8 1093.2,373.7 1095.1,395.1 1097.0,397.9 1099.0,402.9 1100.5,403.3 1102.0,401.0 1103.9,392.2 1105.8,394.4 1107.8,395.1 1109.8,395.1 1111.7,392.2 1113.2,387.9 1114.6,382.4 1116.5,387.1 1118.5,393.2 1120.5,387.6 1122.4,381.5 1123.9,378.8 1125.4,379.5 1126.3,348.3 1127.8,326.3 1129.3,305.4 1131.0,305.0 1132.8,302.4 1134.5,299.9 1135.9,303.5 1137.2,305.7 1138.6,309.3 1140.0,312.6 1140.5,334.3 1142.0,337.4 1143.6,339.8 1145.1,342.5 1146.6,345.1 1148.1,347.0 1149.5,352.6 1150.8,357.6 1152.2,364.0 1153.6,368.8 1155.4,341.6 1157.2,352.5 1158.6,300.8 1160.6,316.7 1162.6,332.5 1164.4,318.0 1166.2,327.1 1167.6,321.4 1169.0,317.1 1170.3,321.6 1171.7,327.1 1173.1,342.5 1174.4,357.9 1177.1,368.8 1178.9,363.3 1180.7,357.9 1182.5,370.6 1184.0,369.8 1185.6,368.8 1187.1,367.9 1188.0,379.6 1189.5,377.0 1191.0,374.1 1192.5,371.5 1194.3,370.9 1196.1,372.4 1197.6,369.4 1199.2,366.6 1200.7,362.4 1202.5,370.0 1204.3,376.9 1205.7,376.1 1207.0,375.9 1208.3,374.1 1209.7,374.2 1211.5,374.5 1213.3,377.8 1214.7,384.6 1216.0,391.4 1217.4,384.3 1218.8,378.7 1220.2,382.9 1221.5,385.1 1222.8,387.5 1224.2,393.2 1225.7,390.9 1227.2,391.5 1228.7,388.7 1230.1,393.4 1231.4,398.7 1233.2,389.9 1235.1,383.3 1236.6,382.1 1238.1,382.5 1239.6,381.4 1241.2,382.3 1242.8,382.5 1244.3,384.0 1245.9,383.3 1247.4,384.4 1248.8,384.4 1250.3,385.4 1251.7,386.8 1253.2,386.0 1255.0,392.3 1256.3,394.0 1257.7,394.9 1259.1,394.1 1260.4,395.9 1261.8,399.0 1263.2,402.3 1264.7,399.0 1266.2,394.2 1267.7,390.5 1269.1,387.8 1270.4,383.3 1273.1,386.9 1274.5,364.5 1275.9,341.2 1277.7,344.9 1279.5,347.1 1281.2,349.3 1283.0,351.8 1284.8,361.5 1286.6,367.2 1288.0,372.9 1289.4,376.7 1291.3,358.9 1293.0,360.5 1294.8,362.5 1297.2,343.6 1299.0,341.3 1300.8,338.8 1303.1,323.4 1305.5,317.5 1307.2,327.3 1309.0,332.9 1310.2,319.9 1312.6,319.9 1313.8,298.6 1315.5,296.0 1317.3,293.9 1318.5,280.9 1320.9,284.4 1322.7,281.5 1324.4,277.3 1326.2,276.9 1328.0,274.9 1329.1,280.9 1330.6,280.6 1332.1,279.4 1333.6,280.2 1335.1,279.7 1336.2,265.5 1338.6,257.2 1341.0,253.7 1343.3,265.5 1344.9,265.0 1346.5,264.8 1348.1,263.1 1349.8,267.9 1351.6,271.4 1353.4,272.6 1355.2,273.8 1357.0,276.8 1358.7,278.5 1360.5,278.3 1362.3,277.3 1364.6,260.8 1366.2,262.4 1367.8,263.7 1369.4,261.5 1371.1,259.3 1372.8,256.9 1374.5,254.8 1376.7,225.8 1378.9,212.5 1380.0,196.9 1382.3,152.3 1384.1,196.9 1385.6,159.0 1387.2,188.0 1388.5,203.6 1390.1,132.3 1391.5,130.0 1393.0,126.7 1394.5,163.5 1396.8,173.5 1398.4,169.9 1400.1,167.9 1401.8,171.8 1403.4,176.8 1405.1,183.5 1406.8,190.2 1408.3,184.6 1409.7,180.9 1411.2,176.8 1412.9,178.5 1414.6,183.5 1416.0,189.1 1417.5,195.8 1419.4,190.1 1421.3,183.5 1422.8,196.8 1424.2,209.1 1426.8,194.7 1429.1,195.8"/>
<text class="l" x="176" y="660.7" text-anchor="end" dominant-baseline="central" textLength="28.89" lengthAdjust="spacingAndGlyphs">500</text>
<text class="l" x="176" y="636.8" text-anchor="end" dominant-baseline="central" textLength="28.89" lengthAdjust="spacingAndGlyphs">600</text>
<text class="l" x="176" y="612.8" text-anchor="end" dominant-baseline="central" textLength="28.89" lengthAdjust="spacingAndGlyphs">700</text>
<text class="l" x="176" y="588.9" text-anchor="end" dominant-baseline="central" textLength="28.89" lengthAdjust="spacingAndGlyphs">800</text>
<text class="l" x="176" y="564.9" text-anchor="end" dominant-baseline="central" textLength="28.89" lengthAdjust="spacingAndGlyphs">900</text>
<text class="l" x="176" y="541.0" text-anchor="end" dominant-baseline="central" textLength="43.27" lengthAdjust="spacingAndGlyphs">1,000</text>
<text class="l" x="176" y="517.0" text-anchor="end" dominant-baseline="central" textLength="43.27" lengthAdjust="spacingAndGlyphs">1,100</text>
<text class="l" x="176" y="493.1" text-anchor="end" dominant-baseline="central" textLength="43.27" lengthAdjust="spacingAndGlyphs">1,200</text>
<text class="l" x="176" y="469.1" text-anchor="end" dominant-baseline="central" textLength="43.27" lengthAdjust="spacingAndGlyphs">1,300</text>
<text class="l" x="176" y="445.2" text-anchor="end" dominant-baseline="central" textLength="43.27" lengthAdjust="spacingAndGlyphs">1,400</text>
<text class="l" x="176" y="421.3" text-anchor="end" dominant-baseline="central" textLength="43.27" lengthAdjust="spacingAndGlyphs">1,500</text>
<text class="l" x="176" y="397.3" text-anchor="end" dominant-baseline="central" textLength="43.27" lengthAdjust="spacingAndGlyphs">1,600</text>
<text class="l" x="176" y="373.4" text-anchor="end" dominant-baseline="central" textLength="43.27" lengthAdjust="spacingAndGlyphs">1,700</text>
<text class="l" x="176" y="349.4" text-anchor="end" dominant-baseline="central" textLength="43.27" lengthAdjust="spacingAndGlyphs">1,800</text>
<text class="l" x="176" y="325.5" text-anchor="end" dominant-baseline="central" textLength="43.27" lengthAdjust="spacingAndGlyphs">1,900</text>
<text class="l" x="176" y="301.5" text-anchor="end" dominant-baseline="central" textLength="43.27" lengthAdjust="spacingAndGlyphs">2,000</text>
<text class="l" x="176" y="277.6" text-anchor="end" dominant-baseline="central" textLength="43.27" lengthAdjust="spacingAndGlyphs">2,100</text>
<text class="l" x="176" y="253.6" text-anchor="end" dominant-baseline="central" textLength="43.27" lengthAdjust="spacingAndGlyphs">2,200</text>
<text class="l" x="176" y="229.7" text-anchor="end" dominant-baseline="central" textLength="43.27" lengthAdjust="spacingAndGlyphs">2,300</text>
<text class="l" x="176" y="205.8" text-anchor="end" dominant-baseline="central" textLength="43.27" lengthAdjust="spacingAndGlyphs">2,400</text>
<text class="l" x="176" y="181.8" text-anchor="end" dominant-baseline="central" textLength="43.27" lengthAdjust="spacingAndGlyphs">2,500</text>
<text class="l" x="176" y="157.9" text-anchor="end" dominant-baseline="central" textLength="43.27" lengthAdjust="spacingAndGlyphs">2,600</text>
<text class="l" x="176" y="133.9" text-anchor="end" dominant-baseline="central" textLength="43.27" lengthAdjust="spacingAndGlyphs">2,700</text>
<text class="l" x="176" y="110.0" text-anchor="end" dominant-baseline="central" textLength="43.27" lengthAdjust="spacingAndGlyphs">2,800</text>
<text class="l" x="176" y="86.0" text-anchor="end" dominant-baseline="central" textLength="43.27" lengthAdjust="spacingAndGlyphs">2,900</text>
<text class="l" x="176" y="62.1" text-anchor="end" dominant-baseline="central" textLength="43.27" lengthAdjust="spacingAndGlyphs">3,000</text>
<text class="l" x="176" y="38.1" text-anchor="end" dominant-baseline="central" textLength="43.27" lengthAdjust="spacingAndGlyphs">3,100</text>
<text class="l" x="176" y="14.2" text-anchor="end" dominant-baseline="central" textLength="43.27" lengthAdjust="spacingAndGlyphs">3,200</text>
<text class="r" x="1468.6" y="659.6" dominant-baseline="central" textLength="58.88" lengthAdjust="spacingAndGlyphs">50,000</text>
<text class="r" x="1468.6" y="627.3" dominant-baseline="central" textLength="85.67" lengthAdjust="spacingAndGlyphs">1,050,000</text>
<text class="r" x="1468.6" y="595.0" dominant-baseline="central" textLength="85.67" lengthAdjust="spacingAndGlyphs">2,050,000</text>
<text class="r" x="1468.6" y="562.7" dominant-baseline="central" textLength="85.67" lengthAdjust="spacingAndGlyphs">3,050,000</text>
<text class="r" x="1468.6" y="530.3" dominant-baseline="central" textLength="85.67" lengthAdjust="spacingAndGlyphs">4,050,000</text>
<text class="r" x="1468.6" y="498.0" dominant-baseline="central" textLength="85.67" lengthAdjust="spacingAndGlyphs">5,050,000</text>
<text class="r" x="1468.6" y="465.7" dominant-baseline="central" textLength="85.67" lengthAdjust="spacingAndGlyphs">6,050,000</text>
<text class="r" x="1468.6" y="433.4" dominant-baseline="central" textLength="85.67" lengthAdjust="spacingAndGlyphs">7,050,000</text>
<text class="r" x="1468.6" y="401.1" dominant-baseline="central" textLength="85.67" lengthAdjust="spacingAndGlyphs">8,050,000</text>
<text class="r" x="1468.6" y="368.8" dominant-baseline="central" textLength="85.67" lengthAdjust="spacingAndGlyphs">9,050,000</text>
<text class="r" x="1468.6" y="336.4" dominant-baseline="central" textLength="96.36" lengthAdjust="spacingAndGlyphs">10,050,000</text>
<text class="r" x="1468.6" y="304.1" dominant-baseline="central" textLength="96.36" lengthAdjust="spacingAndGlyphs">11,050,000</text>
<text class="r" x="1468.6" y="271.8" dominant-baseline="central" textLength="96.36" lengthAdjust="spacingAndGlyphs">12,050,000</text>
<text class="r" x="1468.6" y="239.5" dominant-baseline="central" textLength="96.36" lengthAdjust="spacingAndGlyphs">13,050,000</text>
<text class="r" x="1468.6" y="207.2" dominant-baseline="central" textLength="96.36" lengthAdjust="spacingAndGlyphs">14,050,000</text>
<text class="r" x="1468.6" y="174.9" dominant-baseline="central" textLength="96.36" lengthAdjust="spacingAndGlyphs">15,050,000</text>
<text class="r" x="1468.6" y="142.5" dominant-baseline="central" textLength="96.36" lengthAdjust="spacingAndGlyphs">16,050,000</text>
<text class="r" x="1468.6" y="110.2" dominant-baseline="central" textLength="96.36" lengthAdjust="spacingAndGlyphs">17,050,000</text>
<text class="r" x="1468.6" y="77.9" dominant-baseline="central" textLength="96.36" lengthAdjust="spacingAndGlyphs">18,050,000</text>
<text class="r" x="1468.6" y="45.6" dominant-baseline="central" textLength="96.36" lengthAdjust="spacingAndGlyphs">19,050,000</text>
<text class="b" x="196.5" y="698" text-anchor="middle" textLength="68.95" lengthAdjust="spacingAndGlyphs">Mar-20</text>
<text class="b" x="278.5" y="698" text-anchor="middle" textLength="55.52" lengthAdjust="spacingAndGlyphs">Jul-20</text>
<text class="b" x="361.5" y="698" text-anchor="middle" textLength="67.64" lengthAdjust="spacingAndGlyphs">Nov-20</text>
<text class="b" x="441.5" y="698" text-anchor="middle" textLength="68.95" lengthAdjust="spacingAndGlyphs">Mar-21</text>
<text class="b" x="524.5" y="698" text-anchor="middle" textLength="55.52" lengthAdjust="spacingAndGlyphs">Jul-21</text>
<text class="b" x="606.5" y="698" text-anchor="middle" textLength="67.64" lengthAdjust="spacingAndGlyphs">Nov-21</text>
<text class="b" x="687.5" y="698" text-anchor="middle" textLength="68.95" lengthAdjust="spacingAndGlyphs">Mar-22</text>
<text class="b" x="769.5" y="698" text-anchor="middle" textLength="55.52" lengthAdjust="spacingAndGlyphs">Jul-22</text>
<text class="b" x="852.5" y="698" text-anchor="middle" textLength="67.64" lengthAdjust="spacingAndGlyphs">Nov-22</text>
<text class="b" x="933.5" y="698" text-anchor="middle" textLength="68.95" lengthAdjust="spacingAndGlyphs">Mar-23</text>
<text class="b" x="1015.5" y="698" text-anchor="middle" textLength="55.52" lengthAdjust="spacingAndGlyphs">Jul-23</text>
<text class="b" x="1098.5" y="698" text-anchor="middle" textLength="67.64" lengthAdjust="spacingAndGlyphs">Nov-23</text>
<text class="b" x="1179.5" y="698" text-anchor="middle" textLength="68.95" lengthAdjust="spacingAndGlyphs">Mar-24</text>
<text class="b" x="1261.5" y="698" text-anchor="middle" textLength="55.52" lengthAdjust="spacingAndGlyphs">Jul-24</text>
<text class="b" x="1344.5" y="698" text-anchor="middle" textLength="67.64" lengthAdjust="spacingAndGlyphs">Nov-24</text>
<text class="b" x="1425.5" y="698" text-anchor="middle" textLength="68.95" lengthAdjust="spacingAndGlyphs">Mar-25</text>
<text class="t" fill="#333399" transform="translate(34 383.8) rotate(-90)" text-anchor="middle" textLength="241.59" lengthAdjust="spacingAndGlyphs">BLOM STOCK INDEX</text>
<text class="t" fill="#993300" transform="translate(1619.5 386) rotate(-90)" text-anchor="middle" textLength="185.22" lengthAdjust="spacingAndGlyphs">TRADED VALUE</text>
</svg></body></html>
